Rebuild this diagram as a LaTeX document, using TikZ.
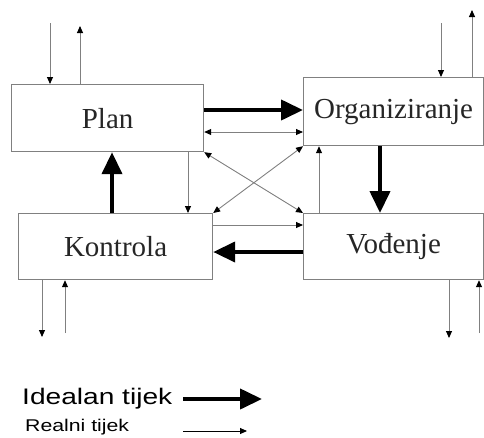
\documentclass[tikz,border=0pt]{standalone}
\usepackage{fontspec}
\setmainfont{Liberation Serif}
\newfontfamily\legendfont[FakeStretch=1.25]{Liberation Sans}
\usetikzlibrary{arrows.meta}
\tikzset{
  tn/.tip={Triangle[length=7pt,width=6pt,color=black]},
  tk/.tip={Triangle[length=22pt,width=20pt,color=black]},
  box/.style={draw=black!50, line width=1.2pt, fill=white, inner sep=0pt,
    font=\fontsize{29}{31}\selectfont, text=black!85, anchor=north west},
  thinarr/.style={draw=black!50, line width=0.9pt, -tn},
  thinboth/.style={draw=black!50, line width=0.9pt, tn-tn},
  thickarr/.style={draw=black, line width=4pt, -tk},
}
\begin{document}
\begin{tikzpicture}[x=1pt,y=-1pt]
\useasboundingbox (0,0) rectangle (484,437);
% boxes
\node[box, minimum width=192pt, minimum height=67pt] (plan) at (11,84) {Plan};
\node[box, minimum width=180pt, minimum height=68pt] (org) at (303,77) {Organiziranje};
\node[box, minimum width=194pt, minimum height=66pt] (kon) at (18,213) {Kontrola};
\node[box, minimum width=180pt, minimum height=66pt] (vod) at (303,213) {Vo\dj enje};
% helper coordinates
\coordinate (y110) at (0,110);
\coordinate (y132) at (0,132);
\coordinate (y225) at (0,225);
\coordinate (y252) at (0,252);
\coordinate (x112) at (112,0);
\coordinate (x188) at (188,0);
\coordinate (x319) at (319,0);
\coordinate (x380) at (380,0);
% Plan <-> Organiziranje
\draw[thickarr] (plan.east |- y110) -- (org.west |- y110);
\draw[thinboth] (plan.east |- y132) -- (org.west |- y132);
% diagonals
\draw[thinboth] (plan.south east) -- (vod.north west);
\draw[thinboth] (kon.north east) -- (org.south west);
% Plan <-> Kontrola
\draw[thickarr] (kon.north -| x112) -- (plan.south -| x112);
\draw[thinarr] (plan.south -| x188) -- (kon.north -| x188);
% Organiziranje <-> Vodenje
\draw[thinarr] (vod.north -| x319) -- (org.south -| x319);
\draw[thickarr] (org.south -| x380) -- (vod.north -| x380);
% Kontrola <-> Vodenje
\draw[thinarr] (kon.east |- y225) -- (vod.west |- y225);
\draw[thickarr] (vod.west |- y252) -- (kon.east |- y252);
% external flows
\coordinate (pin) at (50,23);
\coordinate (pout) at (80,26);
\draw[thinarr] (pin) -- (pin |- plan.north);
\draw[thinarr] (pout |- plan.north) -- (pout);
\coordinate (oin) at (441,23);
\coordinate (oout) at (472,10);
\draw[thinarr] (oin) -- (oin |- org.north);
\draw[thinarr] (oout |- org.north) -- (oout);
\coordinate (kout) at (42,337);
\coordinate (kin) at (65,333);
\draw[thinarr] (kout |- kon.south) -- (kout);
\draw[thinarr] (kin) -- (kin |- kon.south);
\coordinate (vout) at (449,338);
\coordinate (vin) at (479,333);
\draw[thinarr] (vout |- vod.south) -- (vout);
\draw[thinarr] (vin) -- (vin |- vod.south);
% legend
\node[anchor=base west, inner sep=0pt, font=\legendfont\fontsize{22.5}{24}\selectfont] (ideal) at (22,404) {Idealan tijek};
\node[anchor=base west, inner sep=0pt, font=\legendfont\fontsize{17}{18}\selectfont] (real) at (25,431) {Realni tijek};
\coordinate (l1a) at (183,399);
\coordinate (l1b) at (262,399);
\coordinate (l2a) at (183,431);
\coordinate (l2b) at (247,431);
\draw[thickarr] (l1a) -- (l1b);
\draw[draw=black, line width=0.9pt, -tn] (l2a) -- (l2b);
\end{tikzpicture}
\end{document}
